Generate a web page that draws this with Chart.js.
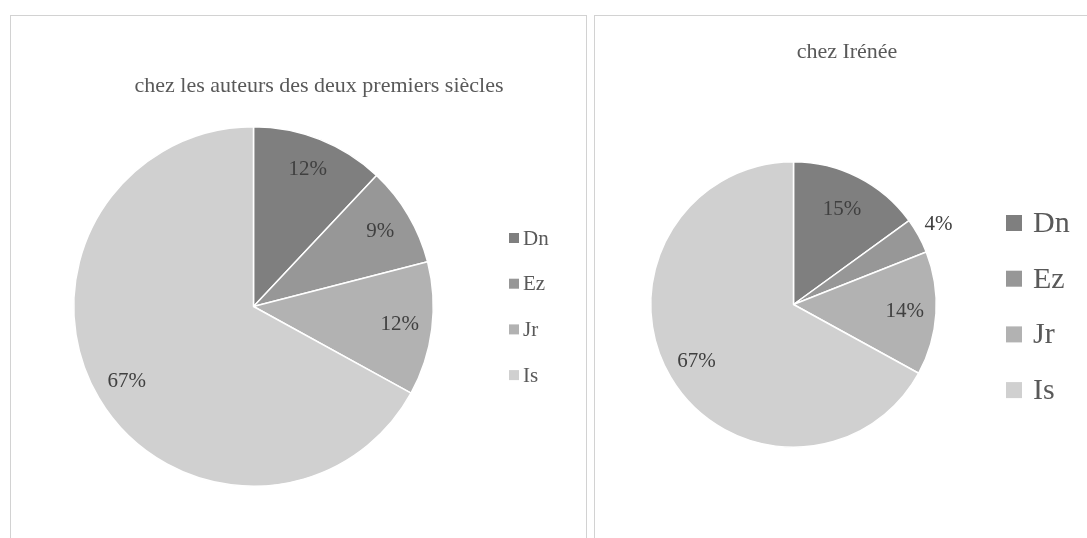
<!DOCTYPE html>
<html>
<head>
<meta charset="utf-8">
<script src="https://cdn.jsdelivr.net/npm/chart.js@4/dist/chart.umd.min.js"></script>
<style>
  html, body { margin: 0; padding: 0; background: #ffffff; width: 1087px; height: 538px; overflow: hidden; position: relative; }
  .box { position: absolute; border: 1px solid #d2d2d2; box-sizing: border-box; }
  canvas { position: absolute; }
</style>
</head>
<body>
<div class="box" style="left:10px; top:15px; width:577px; height:600px;"></div>
<div class="box" style="left:594px; top:15px; width:520px; height:600px;"></div>
<canvas id="c1" width="574" height="522" style="left:11px; top:16px;"></canvas>
<canvas id="c2" width="492" height="522" style="left:595px; top:16px;"></canvas>
<script>
// ---- data ----
const categories = ['Dn', 'Ez', 'Jr', 'Is'];
const seriesAuteurs = [12, 9, 12, 67];   // chez les auteurs des deux premiers siècles (%)
const seriesIrenee = [15, 4, 14, 67];    // chez Irénée (%)
const titles = ['chez les auteurs des deux premiers siècles', 'chez Irénée'];
const sliceColors = ['#7f7f7f', '#979797', '#b2b2b2', '#d0d0d0'];

const FONT = '"Liberation Serif", "DejaVu Serif", serif';

const decorPlugin = {
  id: 'decor',
  afterDraw(chart) {
    const o = chart.options.plugins.decor;
    const ctx = chart.ctx;
    ctx.save();
    // title
    ctx.fillStyle = '#595959';
    ctx.font = o.titleSize + 'px ' + FONT;
    ctx.textAlign = 'center';
    ctx.textBaseline = 'middle';
    ctx.fillText(o.title, o.titleX, o.titleY);
    // legend
    const ds = chart.data.datasets[0];
    chart.data.labels.forEach((lab, i) => {
      const y = o.legY + i * o.legDy;
      ctx.fillStyle = ds.backgroundColor[i];
      ctx.fillRect(o.legBoxX, y - o.legBox / 2, o.legBox, o.legBox);
      ctx.fillStyle = '#595959';
      ctx.font = o.legSize + 'px ' + FONT;
      ctx.textAlign = 'left';
      ctx.textBaseline = 'middle';
      ctx.fillText(lab, o.legTextX, y + 1);
    });
    // data labels
    const meta = chart.getDatasetMeta(0);
    const total = ds.data.reduce((a, b) => a + b, 0);
    ctx.fillStyle = '#404040';
    ctx.font = o.labelSize + 'px ' + FONT;
    ctx.textAlign = 'center';
    ctx.textBaseline = 'middle';
    meta.data.forEach((arc, i) => {
      const p = arc.getProps(['x', 'y', 'startAngle', 'endAngle', 'outerRadius'], true);
      const mid = (p.startAngle + p.endAngle) / 2;
      const r = p.outerRadius * o.labelR[i];
      const pct = Math.round(ds.data[i] / total * 100) + '%';
      ctx.fillText(pct, p.x + Math.cos(mid) * r, p.y + Math.sin(mid) * r);
    });
    ctx.restore();
  }
};

function makePie(id, values, padding, decor) {
  return new Chart(document.getElementById(id), {
    type: 'pie',
    data: {
      labels: categories,
      datasets: [{
        data: values,
        backgroundColor: sliceColors,
        borderColor: '#ffffff',
        borderWidth: 1.5
      }]
    },
    options: {
      responsive: false,
      animation: false,
      devicePixelRatio: 1,
      layout: { padding: padding },
      plugins: {
        legend: { display: false },
        title: { display: false },
        tooltip: { enabled: false },
        decor: decor
      }
    },
    plugins: [decorPlugin]
  });
}

makePie('c1', seriesAuteurs,
  { left: 62, top: 110, right: 151, bottom: 51 },
  { title: titles[0], titleX: 308, titleY: 70, titleSize: 22,
    legBoxX: 498, legBox: 10, legTextX: 512, legY: 222, legDy: 45.7, legSize: 21,
    labelSize: 21, labelR: [0.82, 0.82, 0.82, 0.82] });

makePie('c2', seriesIrenee,
  { left: 55, top: 145, right: 150, bottom: 90 },
  { title: titles[1], titleX: 252, titleY: 36, titleSize: 22,
    legBoxX: 411, legBox: 16, legTextX: 438, legY: 207, legDy: 55.7, legSize: 30,
    labelSize: 21, labelR: [0.75, 1.16, 0.78, 0.79] });
</script>
</body>
</html>
